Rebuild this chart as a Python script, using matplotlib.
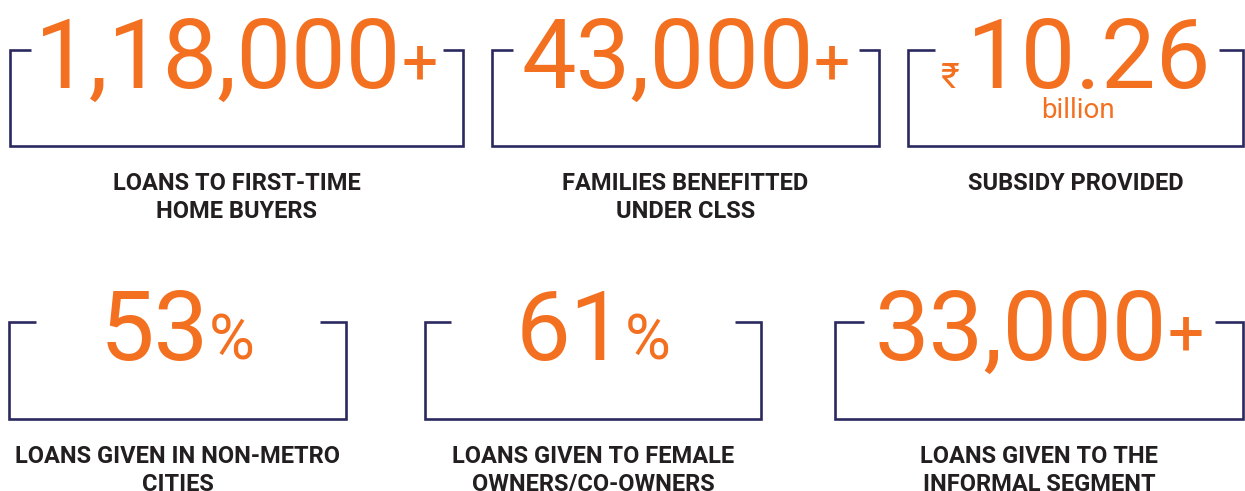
import matplotlib
matplotlib.use("Agg")
import matplotlib.pyplot as plt

# figures shown in each panel
values = ["1,18,000", "43,000", "10.26", "53", "61", "33,000"]
prefixes = ["", "", "\u20b9", "", "", ""]
suffixes = ["+", "+", "", "%", "%", "+"]
sublines = ["", "", "billion", "", "", ""]
labels = [
    "LOANS TO FIRST-TIME\nHOME BUYERS",
    "FAMILIES BENEFITTED\nUNDER CLSS",
    "SUBSIDY PROVIDED",
    "LOANS GIVEN IN NON-METRO\nCITIES",
    "LOANS GIVEN TO FEMALE\nOWNERS/CO-OWNERS",
    "LOANS GIVEN TO THE\nINFORMAL SEGMENT",
]

# bracket layout in pixels: left, left-seg end, right-seg start, right, top, bottom
boxes = [
    (10, 31, 443, 463, 50, 146),
    (492, 513, 859, 879, 50, 146),
    (908, 935, 1219, 1243, 50, 146),
    (9, 36, 320, 346, 322, 419),
    (425, 451, 735, 761, 322, 419),
    (835, 864, 1215, 1243, 322, 419),
]

ORANGE = "#f37021"
NAVY = "#2b2960"
DARK = "#231f20"
FONT = "Roboto"

W, H = 1245, 491
fig = plt.figure(figsize=(W / 100, H / 100), dpi=100)
ax = fig.add_axes([0, 0, 1, 1])
ax.set_xlim(0, W)
ax.set_ylim(H, 0)
ax.axis("off")

fig.canvas.draw()
renderer = fig.canvas.get_renderer()


def px_width(t):
    return t.get_window_extent(renderer=renderer).width


for i, (l, ls, rs, r, top, bot) in enumerate(boxes):
    ax.plot([ls, l, l, r, r, rs], [top, top, bot, bot, top, top],
            color=NAVY, lw=1.9, solid_joinstyle="miter", solid_capstyle="butt")
    cx = (l + r) / 2
    base = top + 38

    # number with prefix / suffix, laid out left to right and centred
    parts = []
    if prefixes[i]:
        parts.append(ax.text(0, base, prefixes[i], fontsize=26, color=ORANGE,
                             family=[FONT, "DejaVu Sans"], va="baseline", ha="left"))
        parts.append(None)
    parts.append(ax.text(0, base, values[i], fontsize=70, color=ORANGE,
                         family=FONT, va="baseline", ha="left"))
    if suffixes[i] == "+":
        parts.append(ax.text(0, base - 5, "+", fontsize=46, color=ORANGE,
                             family=FONT, va="baseline", ha="left"))
    elif suffixes[i] == "%":
        parts.append(ax.text(0, base, "%", fontsize=45, color=ORANGE,
                             family=FONT, va="baseline", ha="left"))

    widths = [8 if p is None else px_width(p) for p in parts]
    x = cx - sum(widths) / 2
    for p, w in zip(parts, widths):
        if p is not None:
            p.set_x(x)
        x += w

    if sublines[i]:
        ax.text(cx + 2, base + 30, sublines[i], fontsize=20, color=ORANGE,
                family=FONT, va="baseline", ha="center")

    # caption
    lab_base = bot + 44
    for j, line in enumerate(labels[i].split("\n")):
        ax.text(cx, lab_base + j * 28, line, fontsize=17, color=DARK,
                family=FONT, weight="bold", va="baseline", ha="center")

fig.savefig("out.png", dpi=100)
